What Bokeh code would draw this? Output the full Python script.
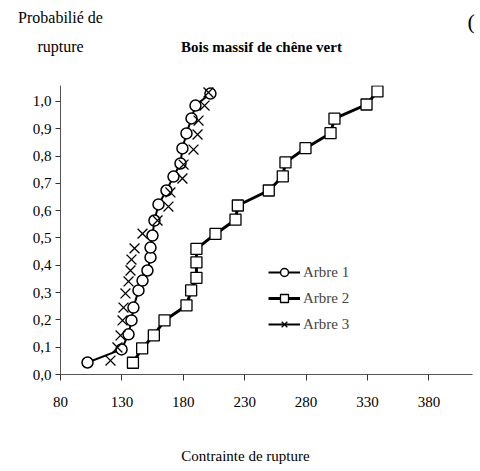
import math
from bokeh.plotting import figure
from bokeh.models import (Range1d, FixedTicker, CustomJSTickFormatter, Label,
                          Legend, LegendItem)
from bokeh.embed import file_html
from bokeh.resources import INLINE

# ---- data ----
arbre1_x = [102.0, 129.7, 135.4, 137.8, 139.4, 143.5, 146.8, 150.8, 153.3, 153.3, 154.9,
            156.5, 159.8, 166.3, 172.0, 177.7, 179.3, 182.6, 186.7, 189.9, 202.1]
arbre1_y = [0.044, 0.092, 0.147, 0.198, 0.245, 0.308, 0.344, 0.381, 0.429, 0.465, 0.509,
            0.564, 0.623, 0.674, 0.725, 0.773, 0.828, 0.883, 0.938, 0.985, 1.029]

arbre2_x = [139.0, 146.5, 156.0, 164.7, 182.6, 186.4, 190.7, 190.7, 190.7, 206.2,
            222.5, 224.4, 249.6, 261.0, 263.2, 279.5, 299.9, 303.1, 329.2, 338.1]
arbre2_y = [0.043, 0.096, 0.143, 0.198, 0.253, 0.308, 0.354, 0.411, 0.460, 0.515,
            0.567, 0.619, 0.674, 0.726, 0.777, 0.829, 0.884, 0.937, 0.989, 1.037]

arbre3_x = [120.7, 126.4, 128.9, 130.5, 131.3, 132.9, 135.4, 137.0, 137.8, 140.3, 146.8,
            159.0, 167.9, 169.5, 179.3, 180.2, 188.3, 191.6, 192.4, 197.3, 200.5]
arbre3_y = [0.051, 0.099, 0.143, 0.198, 0.245, 0.297, 0.341, 0.381, 0.421, 0.462, 0.516,
            0.564, 0.615, 0.667, 0.718, 0.769, 0.824, 0.879, 0.930, 0.985, 1.033]

x_ticks = [80, 130, 180, 230, 280, 330, 380]
y_ticks = [0.0, 0.1, 0.2, 0.3, 0.4, 0.5, 0.6, 0.7, 0.8, 0.9, 1.0]

title_text = "Bois massif de chêne vert"
ylabel_1 = "Probabilié de"
ylabel_2 = "rupture"
xlabel = "Contrainte de rupture"
series_names = ["Arbre 1", "Arbre 2", "Arbre 3"]

FONT = "Liberation Serif"
W = 476
HEAD_H = 85
MAIN_H = 289 + 45
FOOT_H = 467 - HEAD_H - MAIN_H


def text_strip(height):
    f = figure(width=W, height=height, output_backend="svg", toolbar_location=None,
               x_range=Range1d(0, W), y_range=Range1d(0, height),
               x_axis_location=None, y_axis_location=None,
               min_border=0, min_border_left=0, min_border_right=0,
               min_border_top=0, min_border_bottom=0)
    f.grid.visible = False
    f.outline_line_color = None
    f.title.visible = False
    return f


def strip_label(f, height, x, y_from_top, text, size, style="normal", align="center"):
    f.add_layout(Label(x=x, y=height - y_from_top, x_units="screen", y_units="screen",
                       text=text, text_font=FONT, text_font_size=size,
                       text_font_style=style, text_align=align,
                       text_baseline="middle", text_color="black"))


# ---- header strip: title and y-axis caption ----
head = text_strip(HEAD_H)
strip_label(head, HEAD_H, 261, 46, title_text, "15px", "bold")
strip_label(head, HEAD_H, 60, 17, ylabel_1, "16px")
strip_label(head, HEAD_H, 60, 46, ylabel_2, "16px")
strip_label(head, HEAD_H, 467, 21, "(", "22px", align="left")

# ---- main chart ----
p = figure(width=W, height=MAIN_H, output_backend="svg", toolbar_location=None,
           x_range=Range1d(80, 415.5), y_range=Range1d(0, 1.0586),
           min_border_left=60, min_border_right=4, min_border_top=0, min_border_bottom=45)
p.title.visible = False
p.outline_line_color = None
p.xgrid.visible = False
p.ygrid.visible = False
p.background_fill_color = "white"
p.border_fill_color = "white"

for ax in (p.xaxis[0], p.yaxis[0]):
    ax.axis_line_color = "#555555"
    ax.axis_line_width = 1
    ax.major_tick_line_color = "#333333"
    ax.minor_tick_line_color = None
    ax.major_tick_in = 0
    ax.major_label_text_font = FONT
    ax.major_label_text_font_size = "15px"
    ax.major_label_text_color = "black"

p.xaxis[0].ticker = FixedTicker(ticks=x_ticks)
p.xaxis[0].major_tick_out = 6
p.xaxis[0].major_label_standoff = 16

p.yaxis[0].ticker = FixedTicker(ticks=y_ticks)
p.yaxis[0].major_tick_out = 5
p.yaxis[0].major_label_standoff = 4
p.yaxis[0].formatter = CustomJSTickFormatter(code="return tick.toFixed(1).replace('.', ',');")

# lines
l1 = p.line(arbre1_x, arbre1_y, line_color="black", line_width=2)
l2 = p.line(arbre2_x, arbre2_y, line_color="black", line_width=3)
l3 = p.line([math.nan], [math.nan], line_color="black", line_width=2)

# markers
m2 = p.scatter(arbre2_x, arbre2_y, marker="square", size=11, fill_color="white",
               line_color="black", line_width=1.3)
m1 = p.scatter(arbre1_x, arbre1_y, marker="circle", size=11, fill_color="white",
               line_color="black", line_width=1.5)
m3 = p.scatter(arbre3_x, arbre3_y, marker="x", size=14, line_color="black", line_width=1.3)

legend = Legend(items=[LegendItem(label=series_names[0], renderers=[l1, m1]),
                       LegendItem(label=series_names[1], renderers=[l2, m2]),
                       LegendItem(label=series_names[2], renderers=[l3, m3])],
                location=(208, 40), orientation="vertical",
                glyph_width=32, glyph_height=20, label_height=20, label_standoff=3,
                spacing=6, padding=0, margin=0,
                border_line_color=None, background_fill_alpha=0,
                label_text_font=FONT, label_text_font_size="15px")
p.add_layout(legend, "center")

# ---- footer strip: x-axis caption ----
foot = text_strip(FOOT_H)
strip_label(foot, FOOT_H, 245, 455 - HEAD_H - MAIN_H, xlabel, "15px")

open("out.html", "w").write(file_html([head, p, foot], INLINE))
